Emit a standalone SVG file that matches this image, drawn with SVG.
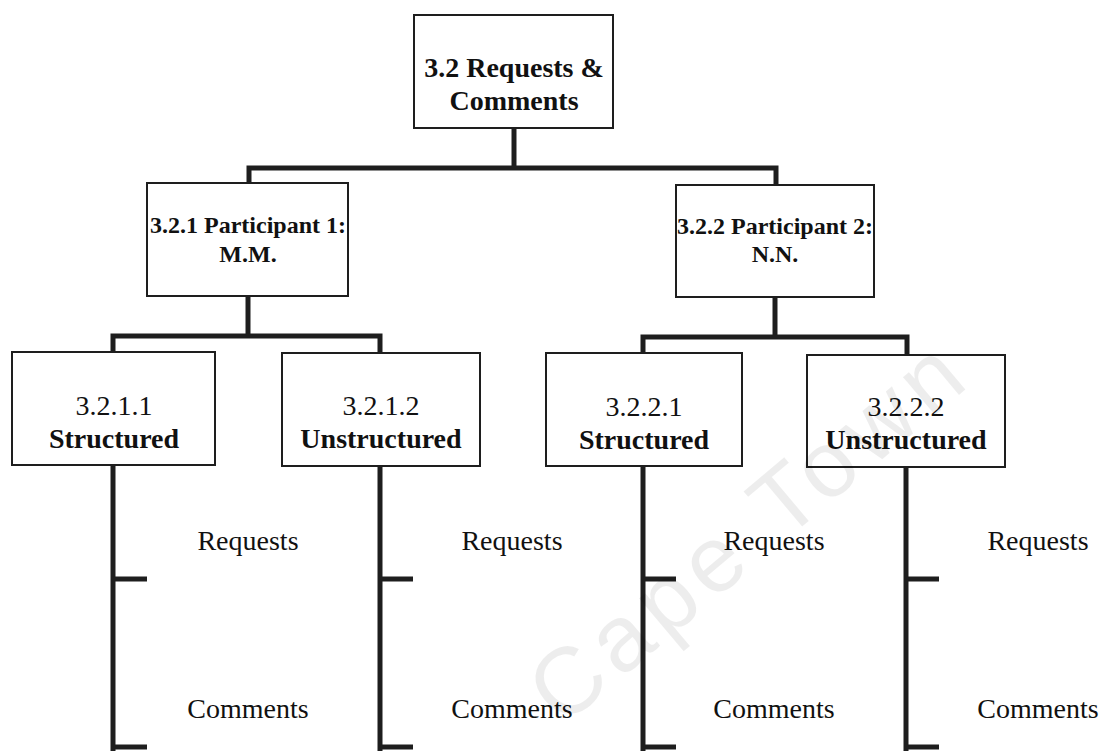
<svg xmlns="http://www.w3.org/2000/svg" width="1104" height="751" viewBox="0 0 1104 751">
<style>
.box{fill:#fff;stroke:#1e1e1e;stroke-width:2}
.con{fill:none;stroke:#1e1e1e;stroke-width:5;stroke-linejoin:miter}
.t{font-family:"Liberation Serif","Times New Roman",serif;fill:#111;text-anchor:middle}
.b{font-weight:bold}
.wm{font-family:"Liberation Sans",Arial,sans-serif;fill:#000;fill-opacity:0.07;font-size:94px;letter-spacing:8px}
</style>
<rect width="1104" height="751" fill="#fff"/>
<g id="connectors">
<path class="con" d="M514,128 V168"/>
<path class="con" d="M249,184 V168 H776 V186"/>
<path class="con" d="M248,297 V336"/>
<path class="con" d="M113,353 V336 H380 V353"/>
<path class="con" d="M775,298 V337"/>
<path class="con" d="M643,354 V337 H907 V354"/>
<path class="con" d="M113,466 V751 M113,579 H147 M113,747 H147"/>
<path class="con" d="M380,466 V751 M380,579 H413 M380,747 H413"/>
<path class="con" d="M643,467 V751 M643,579 H676 M643,747 H676"/>
<path class="con" d="M906,468 V751 M906,579 H939 M906,747 H939"/>
</g>
<g id="n32">
<rect class="box" x="414" y="15" width="199" height="113"/>
<text class="t b" x="514" y="77" font-size="28">3.2 Requests &amp;</text>
<text class="t b" x="514" y="110" font-size="28">Comments</text>
</g>
<g id="n321">
<rect class="box" x="147" y="183" width="201" height="113"/>
<text class="t b" x="248" y="233" font-size="24">3.2.1 Participant 1:</text>
<text class="t b" x="248" y="262" font-size="24">M.M.</text>
</g>
<g id="n322">
<rect class="box" x="676" y="185" width="198" height="112"/>
<text class="t b" x="775" y="234" font-size="24">3.2.2 Participant 2:</text>
<text class="t b" x="775" y="262" font-size="24">N.N.</text>
</g>
<g id="n3211">
<rect class="box" x="12" y="352" width="203" height="113"/>
<text class="t" x="114" y="415" font-size="28">3.2.1.1</text>
<text class="t b" x="114" y="448" font-size="28">Structured</text>
</g>
<g id="n3212">
<rect class="box" x="282" y="353" width="198" height="113"/>
<text class="t" x="381" y="415" font-size="28">3.2.1.2</text>
<text class="t b" x="381" y="448" font-size="28">Unstructured</text>
</g>
<g id="n3221">
<rect class="box" x="546" y="353" width="196" height="113"/>
<text class="t" x="644" y="416" font-size="28">3.2.2.1</text>
<text class="t b" x="644" y="449" font-size="28">Structured</text>
</g>
<g id="n3222">
<rect class="box" x="807" y="355" width="198" height="112"/>
<text class="t" x="906" y="416" font-size="28">3.2.2.2</text>
<text class="t b" x="906" y="449" font-size="28">Unstructured</text>
</g>
<g id="leaves">
<text class="t" x="248" y="550" font-size="28">Requests</text>
<text class="t" x="248" y="718" font-size="28">Comments</text>
<text class="t" x="512" y="550" font-size="28">Requests</text>
<text class="t" x="512" y="718" font-size="28">Comments</text>
<text class="t" x="774" y="550" font-size="28">Requests</text>
<text class="t" x="774" y="718" font-size="28">Comments</text>
<text class="t" x="1038" y="550" font-size="28">Requests</text>
<text class="t" x="1038" y="718" font-size="28">Comments</text>
</g>
<text class="wm" transform="translate(562,728) rotate(-40)">Cape Town</text>
</svg>
